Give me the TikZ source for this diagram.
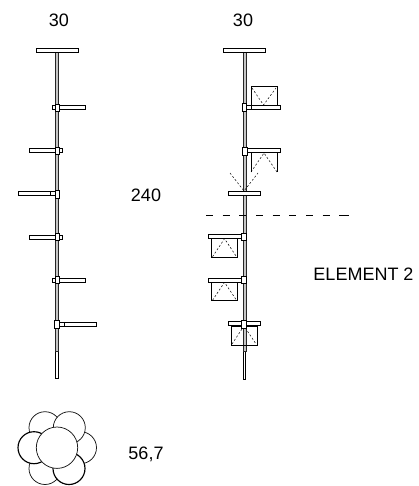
\documentclass[tikz,border=0pt]{standalone}
\usepackage{fontspec}
\setmainfont{Liberation Sans}
\begin{document}
\begin{tikzpicture}[x=1pt,y=-1pt,
    part/.style={draw=black,line width=.7pt,fill=white},
    pole/.style={draw=black!85,line width=.6pt,fill=gray!45},
    tip/.style={draw=black,line width=.6pt,fill=white},
    petal/.style={draw=black!90,line width=.75pt,fill=white},
    boldpetal/.style={draw=black,line width=1.15pt,fill=white},
    hidden/.style={line width=.5pt,dash pattern=on 2pt off 2pt},
    cut/.style={line width=.6pt,dash pattern=on 7pt off 9.67pt},
    label/.style={font=\fontsize{18}{20}\selectfont,inner sep=0pt,anchor=base}]
    \useasboundingbox (0,0) rectangle (419,486);

    % left column
    \draw [tip]  (55.7,351) rectangle (58.3,378);
    \draw [pole] (55.5,52) rectangle (58.5,351);
    \draw [part] (36.5,48) rectangle (78.5,52);
    \foreach \xa/\xb/\yy in {52/85.5/107.5, 29/62.5/150.7, 29/62.5/237, 52/85.5/280} {
        \draw [part] (\xa,\yy-2) rectangle (\xb,\yy+2);
        \draw [part] (55,\yy-3.5) rectangle (59.5,\yy+3.5);
    }
    \draw [part] (18,191.7) rectangle (50,195.7);
    \draw [part] (50,191.7) rectangle (55,195.7);
    \draw [part] (55,190) rectangle (59.5,198);
    \draw [part] (64,322) rectangle (96.5,326);
    \draw [part] (59.5,322) rectangle (64,326);
    \draw [part] (54.5,320) rectangle (59.5,328);

    % right column
    \draw [tip]  (243,351) rectangle (245.6,379);
    \draw [pole] (242.8,52) rectangle (245.8,351);
    \draw [part] (223.5,48) rectangle (265,52);

    \draw [part] (251,86) rectangle (277,105);
    \draw [hidden] (252,88) -- (263.5,105) -- (276,88);
    \draw [part] (251,105.5) rectangle (280.7,109.5);
    \draw [part] (246.5,105.5) rectangle (251,109.5);
    \draw [part] (242,103.5) rectangle (246.5,111);

    \draw [line width=.6pt] (251,172) -- (251,153) (277,153) -- (277,172);
    \draw [hidden] (251,172) -- (264,153) -- (277,172);
    \draw [part] (247,148.7) rectangle (280.7,152.7);
    \draw [part] (242,147) rectangle (247,155);

    \draw [hidden] (230,173) -- (244,191) -- (258,173);
    \draw [part] (228,191.7) rectangle (260.7,195.7);

    \draw [cut] (206,215) -- (336,215);
    \draw [line width=.6pt] (339.3,215) -- (349,215);

    \foreach \yy in {236.7, 280.3} {
        \draw [part] (211.7,\yy+2) rectangle (237.3,\yy+20.5);
        \draw [hidden] (212.5,\yy+20) -- (224.5,\yy+2) -- (236.5,\yy+20);
        \draw [part] (208,\yy-2) rectangle (241,\yy+2);
        \draw [part] (241,\yy-3.5) rectangle (246.3,\yy+3.5);
    }
    \draw [line width=.7pt] (231,326) rectangle (257,345);
    \draw [hidden] (232,344) -- (244,326) -- (256,344);
    \draw [part] (228,321.7) rectangle (260.7,325.7);
    \draw [part] (241.5,320) rectangle (246.5,328);

    % plan view
    \draw [petal] (45,427.7) circle (16);
    \draw [petal] (80.5,447.7) circle (16);
    \draw [petal] (45,468.5) circle (16);
    \draw [boldpetal] (34,447.7) circle (16);
    \draw [petal] (69.3,427.7) circle (16);
    \draw [boldpetal] (69,468.5) circle (16);
    \draw [petal] (57,447.7) circle (20.7);

    \node [label] (widthleft)  at (59,26.7)   {30};
    \node [label] (widthright) at (243,26.7)  {30};
    \node [label] (height)     at (146,201.7) {240};
    \node [label] (element)    at (363.5,280) {ELEMENT 2};
    \node [label] (diameter)   at (146,459.5) {56,7};
\end{tikzpicture}
\end{document}
